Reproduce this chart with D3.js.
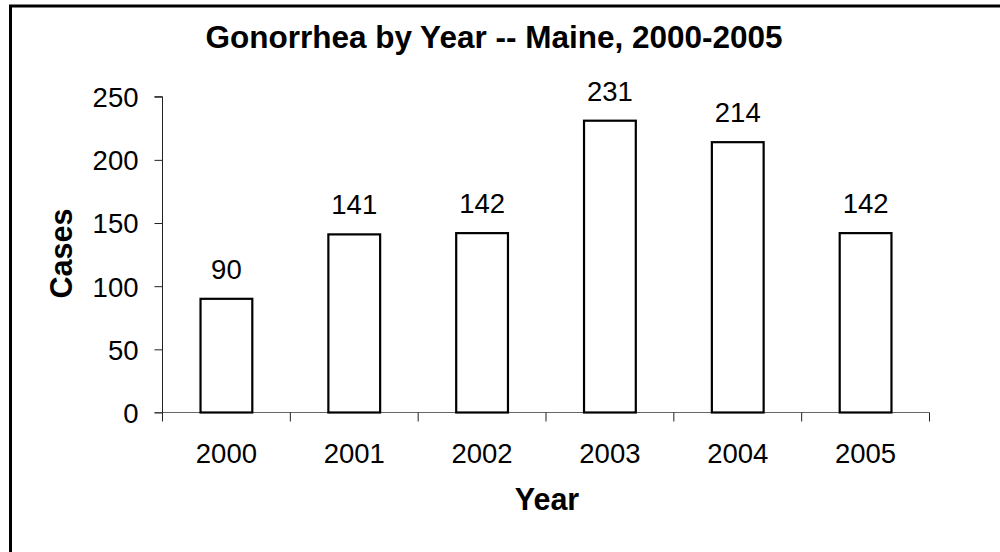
<!DOCTYPE html>
<html>
<head>
<meta charset="utf-8">
<script src="https://cdn.jsdelivr.net/npm/d3@7"></script>
<style>
  html, body { margin: 0; padding: 0; background: #fff; }
  svg { display: block; font-family: "Liberation Sans", Arial, sans-serif; }
</style>
</head>
<body>
<script>
// Reported gonorrhea cases, Maine
const years = ["2000", "2001", "2002", "2003", "2004", "2005"];
const cases = [90, 141, 142, 231, 214, 142];
const yTicks = [0, 50, 100, 150, 200, 250];

const W = 1000, H = 552;
const plot = { left: 162.5, right: 929.5, top: 96.7, bottom: 412.5 };

const svg = d3.select("body").append("svg")
  .attr("width", W).attr("height", H);

// outer frame (runs off the right and bottom edges)
svg.append("rect")
  .attr("x", 10.5).attr("y", 6)
  .attr("width", W + 20).attr("height", H + 20)
  .attr("fill", "#fff").attr("stroke", "#000").attr("stroke-width", 3);

const x = d3.scaleBand().domain(years).range([plot.left, plot.right]).paddingInner(0).paddingOuter(0);
const y = d3.scaleLinear().domain([0, 250]).range([plot.bottom, plot.top]);

const barW = x.bandwidth() * 0.405;

// x axis: ticks sit at category boundaries (drawn first so bar outlines sit on top)
const xAxis = svg.append("g")
  .attr("transform", `translate(0,${plot.bottom})`);
xAxis.append("line")
  .attr("x1", plot.left - 8).attr("x2", plot.right)
  .attr("stroke", "#666").attr("stroke-width", 1.2);
const bounds = years.map(yr => x(yr)).concat([x(years[years.length - 1]) + x.bandwidth()]);
xAxis.selectAll("line.tk").data(bounds).join("line").attr("class", "tk")
  .attr("x1", d => d).attr("x2", d => d).attr("y1", 0).attr("y2", 9)
  .attr("stroke", "#222");
xAxis.selectAll("text").data(years).join("text")
  .attr("x", d => x(d) + x.bandwidth() / 2)
  .attr("y", 50)
  .attr("text-anchor", "middle")
  .attr("font-size", 27.5)
  .text(d => d);

// y axis
const yAxis = svg.append("g")
  .attr("transform", `translate(${plot.left},0)`)
  .call(d3.axisLeft(y).tickValues(yTicks).tickSize(8).tickPadding(16).tickFormat(d3.format("d")));
yAxis.select(".domain").attr("stroke", "#222").attr("d", `M-8,${y(250)}H0V${y(0)}`);
yAxis.selectAll(".tick line").attr("stroke", "#222");
yAxis.selectAll(".tick text").attr("font-size", 27.5).attr("font-family", "Liberation Sans, Arial, sans-serif").attr("fill", "#000").attr("dy", "0.36em");

// bars
svg.append("g").selectAll("rect")
  .data(years.map((yr, i) => ({ yr, v: cases[i] })))
  .join("rect")
  .attr("x", d => x(d.yr) + x.bandwidth() / 2 - barW / 2)
  .attr("y", d => y(d.v))
  .attr("width", barW)
  .attr("height", d => y(0) - y(d.v))
  .attr("fill", "#fff").attr("stroke", "#000").attr("stroke-width", 2.2);

// value labels
svg.append("g").selectAll("text")
  .data(years.map((yr, i) => ({ yr, v: cases[i] })))
  .join("text")
  .attr("x", d => x(d.yr) + x.bandwidth() / 2)
  .attr("y", d => y(d.v) - 20)
  .attr("text-anchor", "middle")
  .attr("font-size", 27.5)
  .text(d => d.v);

// titles
svg.append("text")
  .attr("x", 494).attr("y", 47.5)
  .attr("text-anchor", "middle")
  .attr("font-size", 31.5).attr("font-weight", "bold")
  .text("Gonorrhea by Year -- Maine, 2000-2005");

svg.append("text")
  .attr("x", 547).attr("y", 510)
  .attr("text-anchor", "middle")
  .attr("font-size", 30.5).attr("font-weight", "bold")
  .text("Year");

svg.append("text")
  .attr("transform", `translate(72,${(plot.top + plot.bottom) / 2 - 1}) rotate(-90)`)
  .attr("text-anchor", "middle")
  .attr("font-size", 30.5).attr("font-weight", "bold")
  .text("Cases");
</script>
</body>
</html>
